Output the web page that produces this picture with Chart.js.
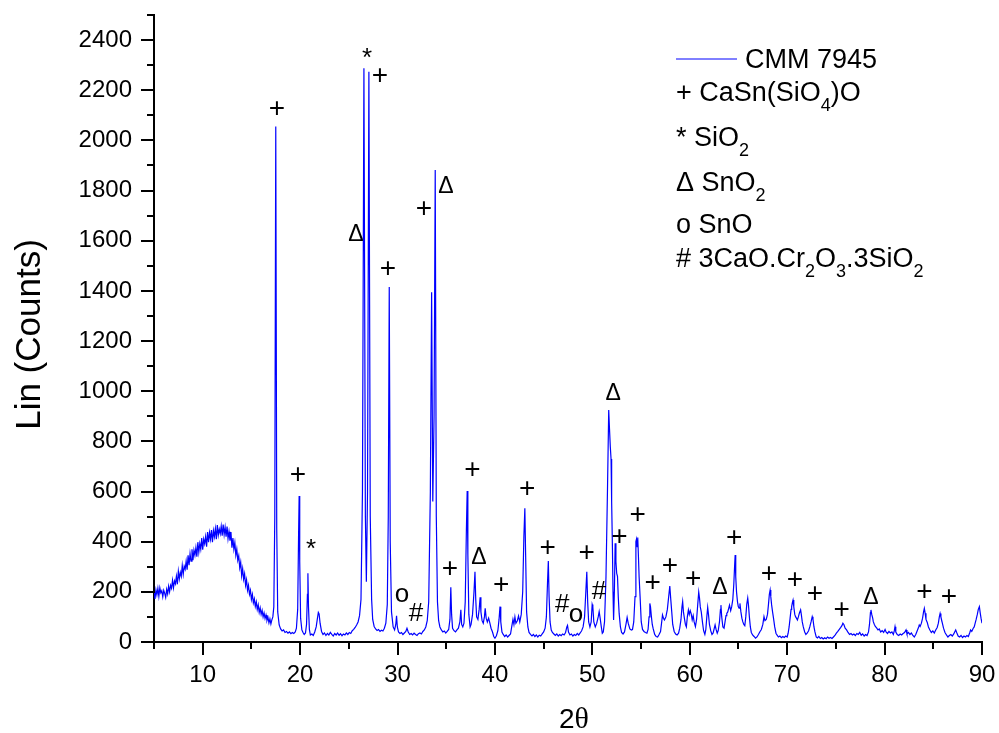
<!DOCTYPE html>
<html>
<head>
<meta charset="utf-8">
<script src="https://cdn.jsdelivr.net/npm/chart.js@4.4.0/dist/chart.umd.min.js"></script>
<style>
  body { margin: 0; background: #fff; }
  #wrap { width: 999px; height: 733px; }
</style>
</head>
<body>
<div id="wrap"><canvas id="xrd" width="999" height="733"></canvas></div>
<script>
// XRD scan of CMM 7945, [2theta, counts]
const scanHump = [
  [5.0,195],[5.1,172],[5.2,208],[5.3,188],[5.4,214],[5.5,182],[5.6,216],[5.7,196],[5.8,204],[5.9,180],
  [6.0,206],[6.1,194],[6.2,178],[6.3,210],[6.4,192],[6.5,222],[6.6,200],[6.7,226],[6.8,214],[6.9,246],
  [7.0,216],[7.1,244],[7.2,232],[7.3,262],[7.4,230],[7.5,282],[7.6,252],[7.7,278],[7.8,262],[7.9,305],
  [8.0,270],[8.1,302],[8.2,290],[8.3,322],[8.4,288],[8.5,346],[8.6,306],[8.7,352],[8.8,322],[8.9,370],
  [9.0,326],[9.1,366],[9.2,346],[9.3,376],[9.4,340],[9.5,398],[9.6,358],[9.7,392],[9.8,370],[9.9,414],
  [10.0,368],[10.1,410],[10.2,392],[10.3,420],[10.4,380],[10.5,438],[10.6,398],[10.7,436],[10.8,410],[10.9,446],
  [11.0,398],[11.1,444],[11.2,420],[11.3,452],[11.4,410],[11.5,466],[11.6,426],[11.7,450],[11.8,432],[11.9,462],
  [12.0,424],[12.1,468],[12.2,428],[12.3,458],[12.4,420],[12.5,460],[12.6,412],[12.7,440],[12.8,404],[12.9,438],
  [13.0,376],[13.1,414],[13.2,370],[13.3,396],[13.4,346],[13.5,370],[13.6,326],[13.7,344],[13.8,296],[13.9,318],
  [14.0,264],[14.1,292],[14.2,250],[14.3,272],[14.4,226],[14.5,248],[14.6,206],[14.7,226],[14.8,190],[14.9,206],
  [15.0,170],[15.1,190],[15.2,156],[15.3,172],[15.4,142],[15.5,160],[15.6,130],[15.7,148],[15.8,118],[15.9,136],
  [16.0,110],[16.1,126],[16.2,100],[16.3,116],[16.4,94],[16.5,108],[16.6,86],[16.7,98],[16.8,76],[16.9,92],
  [17.0,72],[17.1,88],[17.2,100]
];
const scanB = [
  [17.3,140],[17.4,500],[17.5,2055],[17.6,450],[17.7,120],[17.85,68],[18.0,52],[18.15,44],
  [18.3,48],[18.45,38],[18.6,42],[18.75,35],[18.9,40],[19.05,33],[19.2,38],[19.35,34],[19.5,40],[19.62,55],
  [19.75,130],[19.84,420],[19.9,582],[19.96,320],[20.05,95],[20.18,48],[20.3,38],[20.42,30],[20.55,36],[20.66,70],
  [20.75,190],[20.8,274],[20.86,140],[20.95,50],[21.05,28],[21.2,32],[21.35,26],[21.5,40],[21.65,60],[21.78,95],
  [21.87,118],[21.95,112],[22.05,75],[22.2,42],[22.35,30],[22.5,36],[22.65,26],[22.8,34],[22.95,28],[23.1,38],
  [23.25,30],[23.4,24],[23.55,34],[23.7,28],[23.85,36],[24.0,27],[24.15,33],[24.3,25],[24.45,32],[24.6,28],
  [24.75,36],[24.9,30],[25.05,38],[25.2,34],[25.35,45],[25.5,50],[25.65,58],[25.8,68],[25.95,80],[26.1,105],
  [26.25,170],[26.4,600],[26.55,2288],[26.7,500],[26.8,240],[26.92,600],[27.06,2274],[27.2,500],[27.34,170],
  [27.45,90],[27.6,62],[27.75,52],[27.9,46],[28.05,50],[28.2,42],[28.35,47],
  [28.5,44],[28.65,55],[28.8,75],[28.95,150],[29.05,500],[29.15,1415],[29.25,400],[29.38,120],[29.55,60],
  [29.7,48],[29.82,70],[29.9,104],[29.98,60]
];
const scanC = [
  [30.1,40],[30.25,34],[30.4,38],[30.55,30],[30.7,36],[30.85,42],[30.97,55],[31.1,40],[31.25,30],[31.4,34],
  [31.55,28],[31.7,35],[31.85,30],[32.0,26],[32.15,33],[32.3,36],[32.45,32],[32.6,42],[32.75,48],[32.9,60],
  [33.05,85],[33.2,160],[33.37,600],[33.5,1395],[33.62,560],[33.75,900],[33.87,1882],[33.98,500],[34.1,160],
  [34.22,85],[34.35,60],[34.5,48],[34.65,40],[34.8,44],[34.95,36],[35.1,42],
  [35.25,50],[35.38,90],[35.47,218],[35.55,110],[35.65,55],[35.8,45],[35.95,40],[36.1,48],[36.25,55],[36.4,80],
  [36.5,128],[36.58,70],[36.7,60],[36.82,75],[36.95,160],[37.07,450],[37.15,602],[37.22,350],[37.32,110],[37.45,60],
  [37.55,70],[37.7,110],[37.85,200],[37.95,280],[38.03,170],[38.12,100],[38.25,90],[38.38,130],[38.48,178],[38.56,120],
  [38.68,85],[38.8,75],[38.92,100],[39.0,134],[39.1,95],[39.22,80],[39.35,95],[39.48,75],[39.6,55],[39.75,40],
  [39.88,22],[40.0,15],[40.15,25],[40.3,45],[40.42,90],[40.52,141],[40.6,80],[40.72,40],[40.85,30],[41.0,22],
  [41.15,28],[41.3,20],[41.45,26],[41.6,32],[41.72,60],[41.85,90],[41.95,70],[42.05,100],[42.15,75],[42.3,85],
  [42.42,104],[42.55,80],[42.7,110],[42.85,200],[42.97,420],[43.07,533],[43.15,350],[43.25,120],[43.38,60],[43.5,38],
  [43.65,30],[43.8,24],[43.95,30],[44.1,22],[44.25,28],[44.4,20],[44.55,27],[44.7,24],[44.85,32]
];
const scanD = [
  [45.0,40],[45.15,55],[45.28,100],[45.4,240],[45.48,323],[45.56,180],[45.66,80],[45.78,48],[45.9,38],[46.05,32],
  [46.2,26],[46.35,32],[46.5,24],[46.65,30],[46.8,25],[46.95,32],[47.1,28],[47.25,38],[47.38,60],[47.45,66],
  [47.55,40],[47.7,28],[47.85,32],[48.0,24],[48.15,30],[48.3,26],[48.45,34],[48.6,28],[48.75,36],[48.9,45],
  [49.05,60],[49.2,100],[49.33,200],[49.43,280],[49.52,160],[49.62,80],[49.75,60],[49.88,80],[49.98,150],[50.05,140],
  [50.15,80],[50.3,60],[50.45,75],[50.6,100],[50.7,121],[50.8,95],[50.92,60],[51.02,35],[51.12,40],[51.25,80],
  [51.4,260],[51.55,600],[51.68,925],[51.76,850],[51.84,780],[51.92,730],[51.98,560],[52.06,380],[52.12,200],
  [52.18,88],[52.26,200],[52.34,394],[52.42,320],[52.5,274],[52.58,262],[52.66,180],[52.75,114],[52.88,60],[53.0,38],
  [53.15,32],[53.3,40],[53.45,70],[53.57,98],[53.68,75],[53.85,52],[54.0,48],[54.12,50],[54.25,80],[54.38,181],
  [54.47,400],[54.53,410],[54.6,380],[54.66,417],[54.74,330],[54.8,260],[54.9,181],[55.02,80],[55.15,50],[55.3,42],
  [55.45,38],[55.6,35],[55.72,50],[55.82,100],[55.9,154],[55.97,140],[56.05,105],[56.15,70],[56.25,52],[56.4,30],
  [56.55,22],[56.7,20],[56.85,30],[57.0,42],[57.12,80],[57.2,108],[57.3,95],[57.4,88],[57.55,100],[57.7,130],
  [57.82,175],[57.95,223],[58.05,170],[58.15,120],[58.25,70],[58.4,42],[58.55,32],[58.7,28],[58.85,35],[58.97,55],
  [59.1,90],[59.2,140],[59.27,161],[59.35,120],[59.45,94],[59.55,70],[59.65,60],[59.75,100],[59.86,128],[59.95,110]
];
const scanE = [
  [60.05,125],[60.15,112],[60.25,88],[60.35,105],[60.45,80],[60.58,61],[60.7,90],[60.82,150],[60.92,199],[61.0,175],
  [61.08,140],[61.18,120],[61.3,80],[61.42,45],[61.55,30],[61.65,50],[61.75,100],[61.84,138],[61.92,110],[62.02,70],
  [62.15,45],[62.28,30],[62.4,36],[62.52,55],[62.6,68],[62.7,50],[62.82,35],[62.92,45],[63.05,80],[63.15,130],
  [63.2,147],[63.28,100],[63.4,60],[63.52,55],[63.62,80],[63.72,105],[63.8,114],[63.9,120],[64.0,135],[64.08,147],
  [64.2,125],[64.3,140],[64.42,170],[64.52,230],[64.6,300],[64.66,347],[64.72,260],[64.8,200],[64.9,160],[64.98,141],
  [65.06,135],[65.15,154],[65.25,120],[65.35,95],[65.45,80],[65.55,70],[65.65,65],[65.75,100],[65.85,150],[65.95,175],
  [66.02,150],[66.12,100],[66.22,60],[66.32,38],[66.45,28],[66.6,22],[66.75,15],[66.9,20],[67.05,30],[67.2,41],
  [67.35,50],[67.5,70],[67.62,101],[67.72,85],[67.85,90],[67.98,110],[68.08,150],[68.17,190],[68.25,207],[68.32,180],
  [68.4,149],[68.5,120],[68.6,94],[68.72,60],[68.85,35],[68.95,28],[69.1,20],[69.25,24],[69.4,17],[69.55,22],
  [69.7,18],[69.85,24],[70.0,20],[70.1,35],[70.2,60],[70.3,95],[70.4,130],[70.46,141],[70.55,160],[70.6,167],
  [70.68,140],[70.78,110],[70.86,101],[70.95,95],[71.05,88],[71.15,100],[71.25,115],[71.38,128],[71.45,110],[71.55,80],
  [71.65,61],[71.8,40],[71.92,30],[72.05,35],[72.2,45],[72.32,60],[72.45,80],[72.57,101],[72.65,90],[72.75,60],
  [72.85,40],[72.98,20],[73.1,16],[73.25,22],[73.4,14],[73.55,18],[73.7,12],[73.85,17],[74.0,13],[74.15,20],
  [74.3,15],[74.45,18],[74.6,14],[74.75,20],[74.9,26]
];
const scanF = [
  [75.05,35],[75.2,42],[75.35,50],[75.5,58],[75.62,65],[75.72,75],[75.82,70],[75.95,55],[76.1,48],[76.25,38],
  [76.4,30],[76.55,34],[76.7,28],[76.85,32],[77.0,26],[77.15,34],[77.3,30],[77.45,38],[77.6,27],[77.75,32],
  [77.9,24],[78.05,30],[78.2,26],[78.35,40],[78.45,70],[78.55,118],[78.6,128],[78.68,110],[78.78,95],[78.84,81],
  [78.95,70],[79.05,62],[79.2,55],[79.32,48],[79.45,52],[79.6,40],[79.75,45],[79.9,38],[80.05,50],[80.15,40],
  [80.3,34],[80.45,42],[80.6,36],[80.75,40],[80.9,30],[81.0,45],[81.07,61],[81.15,40],[81.3,30],[81.45,26],
  [81.6,32],[81.75,28],[81.9,34],[82.05,38],[82.2,48],[82.3,32],[82.45,38],[82.6,30],[82.75,36],[82.9,26],
  [83.05,20],[83.2,30],[83.35,45],[83.5,60],[83.56,68],[83.65,62],[83.78,75],[83.9,95],[84.0,120],[84.08,134],
  [84.16,115],[84.25,90],[84.38,78],[84.5,60],[84.65,48],[84.8,38],[84.95,44],[85.1,36],[85.25,48],[85.4,58],
  [85.52,75],[85.62,100],[85.7,114],[85.78,100],[85.9,80],[86.05,55],[86.2,38],[86.35,28],[86.5,20],[86.65,26],
  [86.8,30],[86.95,24],[87.1,32],[87.22,42],[87.3,48],[87.4,38],[87.55,24],[87.7,20],[87.85,26],[88.0,18],
  [88.15,24],[88.3,20],[88.45,26],[88.6,22],[88.75,38],[88.83,48],[88.95,42],[89.1,55],[89.2,60],[89.3,75],
  [89.4,90],[89.52,110],[89.62,130],[89.73,141],[89.82,115],[89.9,95],[90.0,75]
];

// tick values
const xMajorTicks = [10, 20, 30, 40, 50, 60, 70, 80, 90];
const xMinorTicks = [5, 15, 25, 35, 45, 55, 65, 75, 85];
const yMajorTicks = [0, 200, 400, 600, 800, 1000, 1200, 1400, 1600, 1800, 2000, 2200, 2400];
const yMinorTicks = [100, 300, 500, 700, 900, 1100, 1300, 1500, 1700, 1900, 2100, 2300, 2500];

// phase markers placed over peaks
const markerSymbols = ['+','+','*','*','+','Δ','+','+','Δ','o','#','+','+','Δ','+','+','+','#','o','+','#','Δ',
  '+','+','+','+','+','Δ','+','+','+','+','+','Δ','+','+'];
const markerTheta = [17.63,19.78,21.12,26.87,28.2,25.74,29.02,32.72,34.98,30.46,31.9,35.39,37.68,38.36,40.65,43.32,45.42,46.92,48.32,49.42,50.68,52.15,
  52.77,54.65,56.19,57.97,60.36,63.1,64.57,68.13,70.8,72.86,75.6,78.6,84.08,86.61];
const markerCounts = [2129,670,391,2348,2261,1631,1491,1730,1826,187,121,294,689,344,231,613,378,154,108,358,207,998,
  423,509,240,307,254,227,417,274,250,194,132,187,203,185];

// legend, "_x" = subscript x
const seriesName = 'CMM 7945';
const phaseLabels = ['+ CaSn(SiO_4)O', '* SiO_2', 'Δ SnO_2', 'o SnO', '# 3CaO.Cr_2O_3.3SiO_2'];

const scan = [].concat(scanHump, scanB, scanC, scanD, scanE, scanF);
const SANS = '"Liberation Sans", Arial, sans-serif';

function drawRich(ctx, text, x, y) {
  const parts = text.split('_');
  ctx.fillText(parts[0], x, y);
  x += ctx.measureText(parts[0]).width;
  for (let i = 1; i < parts.length; i++) {
    const sub = parts[i].charAt(0), rest = parts[i].slice(1);
    ctx.save();
    ctx.font = '18px ' + SANS;
    ctx.fillText(sub, x, y + 10);
    x += ctx.measureText(sub).width;
    ctx.restore();
    ctx.fillText(rest, x, y);
    x += ctx.measureText(rest).width;
  }
}

// no label overhang padding: the layout padding alone fixes the plot box
function noScalePadding(s) {
  s.paddingLeft = 0; s.paddingRight = 0; s.paddingTop = 0; s.paddingBottom = 0;
}

const decorations = {
  id: 'decorations',
  afterDraw(chart) {
    const ctx = chart.ctx;
    const xs = chart.scales.x, ys = chart.scales.y;
    const area = chart.chartArea;
    ctx.save();

    // minor ticks
    ctx.strokeStyle = '#000';
    ctx.lineWidth = 2;
    xMinorTicks.forEach(v => {
      const px = Math.round(xs.getPixelForValue(v));
      ctx.beginPath(); ctx.moveTo(px, area.bottom); ctx.lineTo(px, area.bottom + 7); ctx.stroke();
    });
    yMinorTicks.forEach(v => {
      const py = Math.round(ys.getPixelForValue(v));
      ctx.beginPath(); ctx.moveTo(area.left, py); ctx.lineTo(area.left - 7, py); ctx.stroke();
    });

    // phase markers
    ctx.fillStyle = '#000';
    ctx.textAlign = 'center';
    ctx.textBaseline = 'alphabetic';
    markerSymbols.forEach((s, i) => {
      ctx.font = (s === 'Δ' ? '23px ' : s === '+' ? '28px ' : '26px ') + SANS;
      const m = ctx.measureText(s);
      const px = xs.getPixelForValue(markerTheta[i]);
      const py = ys.getPixelForValue(markerCounts[i]);
      ctx.fillText(s, px, py + (m.actualBoundingBoxAscent - m.actualBoundingBoxDescent) / 2);
    });

    // axis titles
    ctx.textAlign = 'left';
    ctx.font = '28px ' + SANS;
    const cx = (area.left + area.right) / 2 + 6;
    const w2 = ctx.measureText('2').width;
    ctx.font = '30px "Liberation Serif", serif';
    const wt = ctx.measureText('θ').width;
    const tx = cx - (w2 + wt) / 2;
    ctx.font = '28px ' + SANS;
    ctx.fillText('2', tx, 728);
    ctx.font = '30px "Liberation Serif", serif';
    ctx.fillText('θ', tx + w2, 728);

    ctx.save();
    ctx.translate(40, (area.top + area.bottom) / 2 + 6);
    ctx.rotate(-Math.PI / 2);
    ctx.textAlign = 'center';
    ctx.font = '35px ' + SANS;
    ctx.fillText('Lin (Counts)', 0, 0);
    ctx.restore();

    // legend
    ctx.strokeStyle = '#0000ff';
    ctx.lineWidth = 1;
    ctx.beginPath(); ctx.moveTo(676, 59); ctx.lineTo(737, 59); ctx.stroke();
    ctx.textAlign = 'left';
    ctx.font = '27px ' + SANS;
    ctx.fillText(seriesName, 745, 68);
    const rowY = [101, 146, 191, 233, 267];
    phaseLabels.forEach((t, i) => {
      ctx.font = '27px ' + SANS;
      drawRich(ctx, t, 676, rowY[i]);
    });
    ctx.restore();
  }
};

new Chart(document.getElementById('xrd'), {
  type: 'line',
  data: {
    datasets: [{
      label: seriesName,
      data: scan.map(p => ({ x: p[0], y: p[1] })),
      borderColor: '#0000ff',
      borderWidth: 1.2,
      pointRadius: 0,
      tension: 0,
      fill: false
    }]
  },
  options: {
    responsive: false,
    animation: false,
    devicePixelRatio: 1,
    layout: { padding: { top: 15, right: 17, left: 0, bottom: 0 } },
    plugins: { legend: { display: false }, tooltip: { enabled: false } },
    scales: {
      x: {
        type: 'linear',
        min: 5,
        max: 90,
        afterBuildTicks: s => { s.ticks = xMajorTicks.map(v => ({ value: v })); },
        afterFit: s => { s.height = 91; noScalePadding(s); },
        border: { display: true, color: '#000', width: 2 },
        grid: { display: true, drawOnChartArea: false, drawTicks: true, tickLength: 13, color: '#000', lineWidth: 2 },
        ticks: { color: '#000', font: { family: SANS, size: 24 }, padding: 6, maxRotation: 0, callback: v => String(v) }
      },
      y: {
        type: 'linear',
        min: 0,
        max: 2500,
        afterBuildTicks: s => { s.ticks = yMajorTicks.map(v => ({ value: v })); },
        afterFit: s => { s.width = 154; noScalePadding(s); },
        border: { display: true, color: '#000', width: 2 },
        grid: { display: true, drawOnChartArea: false, drawTicks: true, tickLength: 13, color: '#000', lineWidth: 2 },
        ticks: { color: '#000', font: { family: SANS, size: 24 }, padding: 9, callback: v => String(v) }
      }
    }
  },
  plugins: [decorations]
});
</script>
</body>
</html>
